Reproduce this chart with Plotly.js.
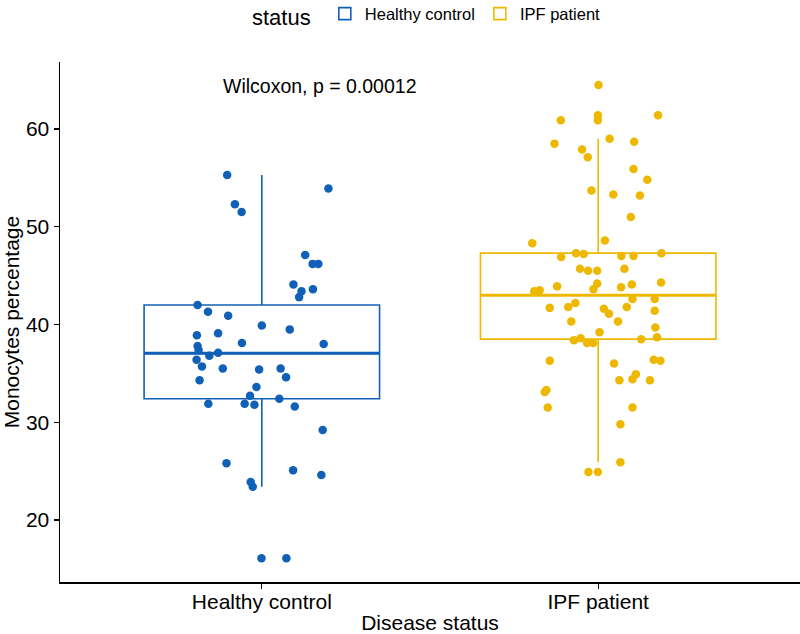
<!DOCTYPE html>
<html>
<head>
<meta charset="utf-8">
<script src="https://cdn.plot.ly/plotly-3.0.1.min.js"></script>
<style>html,body{margin:0;padding:0;background:#fff;}#chart{width:800px;height:634px;}</style>
</head>
<body>
<div id="chart"></div>
<script>
// Categories and colours
const categories = ["Healthy control", "IPF patient"];
const groupColors = ["#1060B8", "#EFB800"];

// Box statistics (q1, median, q3, whisker ends)
const boxQ1 = [32.4, 38.5];
const boxMedian = [37.05, 43.0];
const boxQ3 = [42.0, 47.3];
const boxLower = [23.4, 25.9];
const boxUpper = [55.3, 59.0];

// Healthy control points: value and horizontal jitter offset (category units)
const hcValues = [55.3, 52.3, 51.5, 53.9, 47.1, 46.2, 46.2, 44.1, 43.4, 42.8, 43.6, 42.0, 41.3, 40.9,
  39.9, 39.5, 38.9, 39.1, 38.1, 38.0, 37.8, 37.4, 36.8, 37.1, 36.4, 35.7, 35.5, 35.4, 35.5, 34.6,
  34.3, 33.6, 32.7, 32.4, 31.9, 31.9, 31.8, 31.6, 29.2, 25.8, 25.1, 24.6, 23.9, 23.4, 16.1, 16.1];
const hcJitter = [-0.103, -0.080, -0.060, 0.198, 0.129, 0.151, 0.168, 0.094, 0.118, 0.111, 0.152, -0.191, -0.160, -0.100,
  0.000, 0.083, -0.193, -0.130, -0.059, 0.184, -0.191, -0.188, -0.156, -0.130, -0.194, -0.178, -0.116, -0.008, 0.056, 0.072,
  -0.185, -0.016, -0.035, 0.052, -0.159, -0.051, -0.022, 0.098, 0.181, -0.105, 0.093, 0.177, -0.033, -0.027, -0.001, 0.073];

// IPF patient points
const ipfValues = [64.5, 60.9, 61.4, 60.9, 61.4, 58.5, 57.9, 57.1, 59.0, 58.7, 55.9, 54.8, 53.7, 53.3, 53.2, 51.0, 48.6,
  48.3, 46.9, 47.3, 47.2, 47.0, 47.0, 47.3, 45.7, 45.5, 45.5, 45.7, 43.9, 44.2, 43.6, 43.8, 44.1, 44.3,
  43.4, 43.5, 42.6, 42.6, 41.7, 41.8, 42.2, 41.6, 41.1, 41.8, 41.4, 40.3, 40.3, 39.7, 39.2,
  38.4, 38.6, 38.1, 38.1, 38.5, 38.7, 36.3, 36.0, 36.4, 36.3,
  34.3, 34.4, 34.9, 34.3, 33.1, 33.3, 31.5, 31.5, 29.8, 25.9, 24.9, 24.9];
const ipfJitter = [0.001, -0.111, -0.001, -0.001, 0.178, -0.130, -0.048, -0.031, 0.034, 0.107, 0.105, 0.146, -0.020, 0.045, 0.124, 0.097, 0.020,
  -0.196, -0.110, -0.066, -0.043, 0.069, 0.105, 0.188, -0.054, -0.030, -0.003, 0.078, -0.122, -0.003, -0.014, 0.068, 0.100, 0.187,
  -0.190, -0.174, 0.102, 0.168, -0.144, -0.089, -0.068, 0.017, 0.032, 0.085, 0.168, -0.080, 0.059, 0.170, 0.004,
  -0.072, -0.052, -0.033, -0.015, 0.128, 0.175, -0.144, 0.047, 0.165, 0.185,
  0.063, 0.102, 0.112, 0.154, -0.159, -0.154, -0.150, 0.102, 0.066, 0.066, -0.029, -0.001];

const testLabel = "Wilcoxon, p = 0.00012";
const yTickVals = [20, 30, 40, 50, 60];

const boxWidth = 0.7;
const pointValues = [hcValues, ipfValues];
const pointJitter = [hcJitter, ipfJitter];
const FONT = "Liberation Sans, Arial, sans-serif";

const traces = [];
categories.forEach((cat, i) => {
  const pos = i + 1;
  traces.push({
    type: "box", name: cat, x: [pos],
    q1: [boxQ1[i]], median: [boxMedian[i]], q3: [boxQ3[i]],
    lowerfence: [boxLower[i]], upperfence: [boxUpper[i]],
    width: boxWidth, boxpoints: false, whiskerwidth: 0,
    line: {color: groupColors[i], width: 1.6},
    fillcolor: "rgba(255,255,255,0)",
    hoverinfo: "skip", showlegend: true, legendgroup: cat
  });
  traces.push({
    type: "scatter", mode: "lines", x: [pos - boxWidth / 2, pos + boxWidth / 2],
    y: [boxMedian[i], boxMedian[i]], line: {color: groupColors[i], width: 3},
    showlegend: false, hoverinfo: "skip", legendgroup: cat
  });
  traces.push({
    type: "scatter", mode: "markers",
    x: pointJitter[i].map(d => pos + d), y: pointValues[i],
    marker: {color: groupColors[i], size: 8.5},
    showlegend: false, legendgroup: cat, name: cat
  });
});

const layout = {
  width: 800, height: 634,
  margin: {l: 60, r: 0, t: 62, b: 52},
  paper_bgcolor: "#fff", plot_bgcolor: "#fff",
  font: {family: FONT, color: "#000"},
  showlegend: true,
  legend: {
    orientation: "h", x: 0.535, xanchor: "center", y: 0.975, yanchor: "middle",
    yref: "container", xref: "container",
    title: {text: "status ", font: {size: 22, color: "#000"}, side: "left"},
    font: {size: 16.5, color: "#000"}, itemwidth: 30, traceorder: "normal"
  },
  xaxis: {
    range: [0.4, 2.6], tickvals: [1, 2], ticktext: categories,
    showgrid: false, zeroline: false, showline: true, linecolor: "#000", linewidth: 1.5,
    ticks: "outside", ticklen: 5, tickcolor: "#000", tickwidth: 1.2,
    tickfont: {size: 21, color: "#000"}, ticklabelstandoff: -5,
    title: {text: "Disease status", font: {size: 21, color: "#000"}, standoff: 4}
  },
  yaxis: {
    range: [13.66, 66.85], tickvals: yTickVals,
    showgrid: false, zeroline: false, showline: true, linecolor: "#000", linewidth: 1.5,
    ticks: "outside", ticklen: 5, tickcolor: "#000", tickwidth: 1.2,
    tickfont: {size: 21, color: "#000"},
    title: {text: "Monocytes percentage", font: {size: 21, color: "#000"}, standoff: 4}
  },
  annotations: [{
    x: 0.88, y: 64.4, xref: "x", yref: "y", text: testLabel, showarrow: false,
    xanchor: "left", yanchor: "middle", font: {size: 19.5, color: "#000"}
  }]
};

Plotly.newPlot("chart", traces, layout, {displayModeBar: false, staticPlot: true});
</script>
</body>
</html>
